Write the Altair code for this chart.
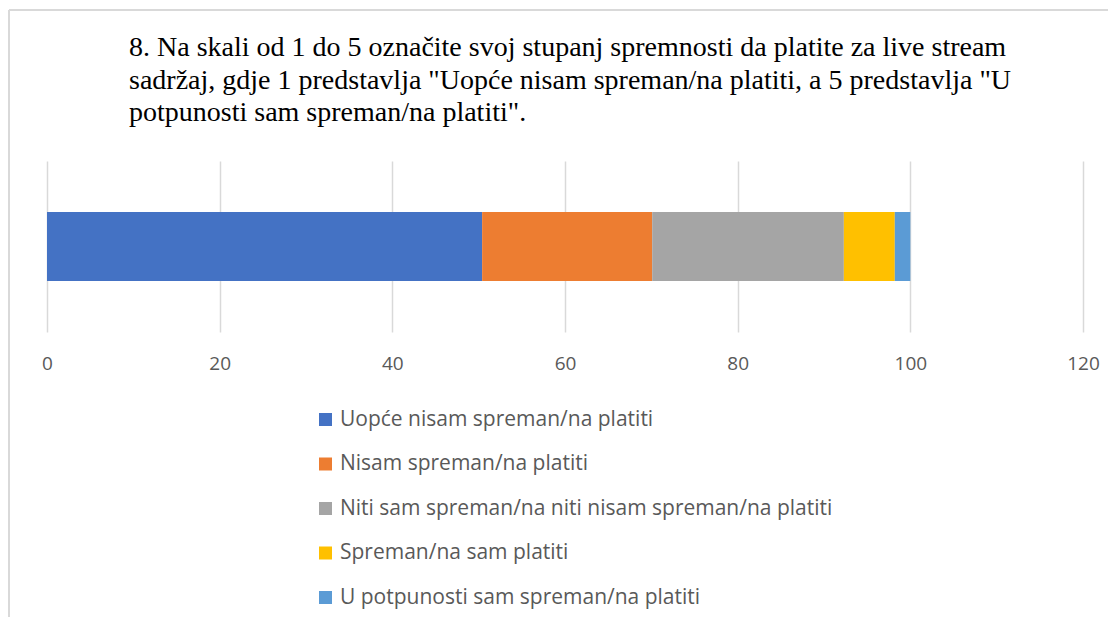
import altair as alt
import pandas as pd

categories = [
    "Uopće nisam spreman/na platiti",
    "Nisam spreman/na platiti",
    "Niti sam spreman/na niti nisam spreman/na platiti",
    "Spreman/na sam platiti",
    "U potpunosti sam spreman/na platiti",
]
values = [50.4, 19.7, 22.2, 5.9, 1.8]
colors = ["#4472C4", "#ED7D31", "#A5A5A5", "#FFC000", "#5B9BD5"]
x_ticks = [0, 20, 40, 60, 80, 100, 120]
title_lines = [
    "8. Na skali od 1 do 5 označite svoj stupanj spremnosti da platite za live stream",
    "sadržaj, gdje 1 predstavlja \"Uopće nisam spreman/na platiti, a 5 predstavlja \"U",
    "potpunosti sam spreman/na platiti\".",
]

df = pd.DataFrame({
    "cat": categories,
    "val": values,
    "idx": list(range(len(categories))),
    "grp": ["8"] * len(categories),
})
one = pd.DataFrame({"k": [0]})

W, H = 1036, 171

bars = alt.Chart(df).mark_bar(size=69).encode(
    x=alt.X(
        "val:Q",
        stack="zero",
        scale=alt.Scale(domain=[0, 120], nice=False),
        axis=alt.Axis(
            values=x_ticks, title=None, domain=False, ticks=False,
            grid=True, gridColor="#d9d9d9", gridWidth=1.5,
            labelFont="Open Sans", labelFontSize=19, labelColor="#595959",
            labelPadding=22, labelFlush=False,
        ),
    ),
    y=alt.Y("grp:N", axis=None),
    color=alt.Color(
        "cat:N",
        scale=alt.Scale(domain=categories, range=colors),
        legend=alt.Legend(
            title=None, orient="none", legendX=268, legendY=248,
            direction="vertical", symbolType="square", symbolSize=169,
            symbolStrokeWidth=0, labelFont="Open Sans", labelFontSize=21,
            labelColor="#595959", rowPadding=22.5, labelOffset=4,
            labelLimit=800,
        ),
    ),
    order=alt.Order("idx:Q"),
)

frame_left = alt.Chart(one).mark_rule(color="#d9d9d9", strokeWidth=2).encode(
    x=alt.value(-38), y=alt.value(-151), y2=alt.value(H + 300)
)
frame_top = alt.Chart(one).mark_rule(color="#d9d9d9", strokeWidth=2).encode(
    x=alt.value(-38), x2=alt.value(W + 40), y=alt.value(-151)
)

title = alt.Chart(one).mark_text(
    text=title_lines, align="left", baseline="alphabetic",
    font="Liberation Serif", fontSize=28, lineHeight=32.5, color="#000000",
).encode(x=alt.value(82), y=alt.value(-105))

chart = alt.layer(frame_left, frame_top, title, bars).properties(
    width=W,
    height=H,
    autosize=alt.AutoSizeParams(type="none"),
    padding={"left": 39, "top": 153, "right": 25, "bottom": 285},
).configure_view(stroke=None)

chart.save("out.html", embed_options={"renderer": "svg", "actions": False})
